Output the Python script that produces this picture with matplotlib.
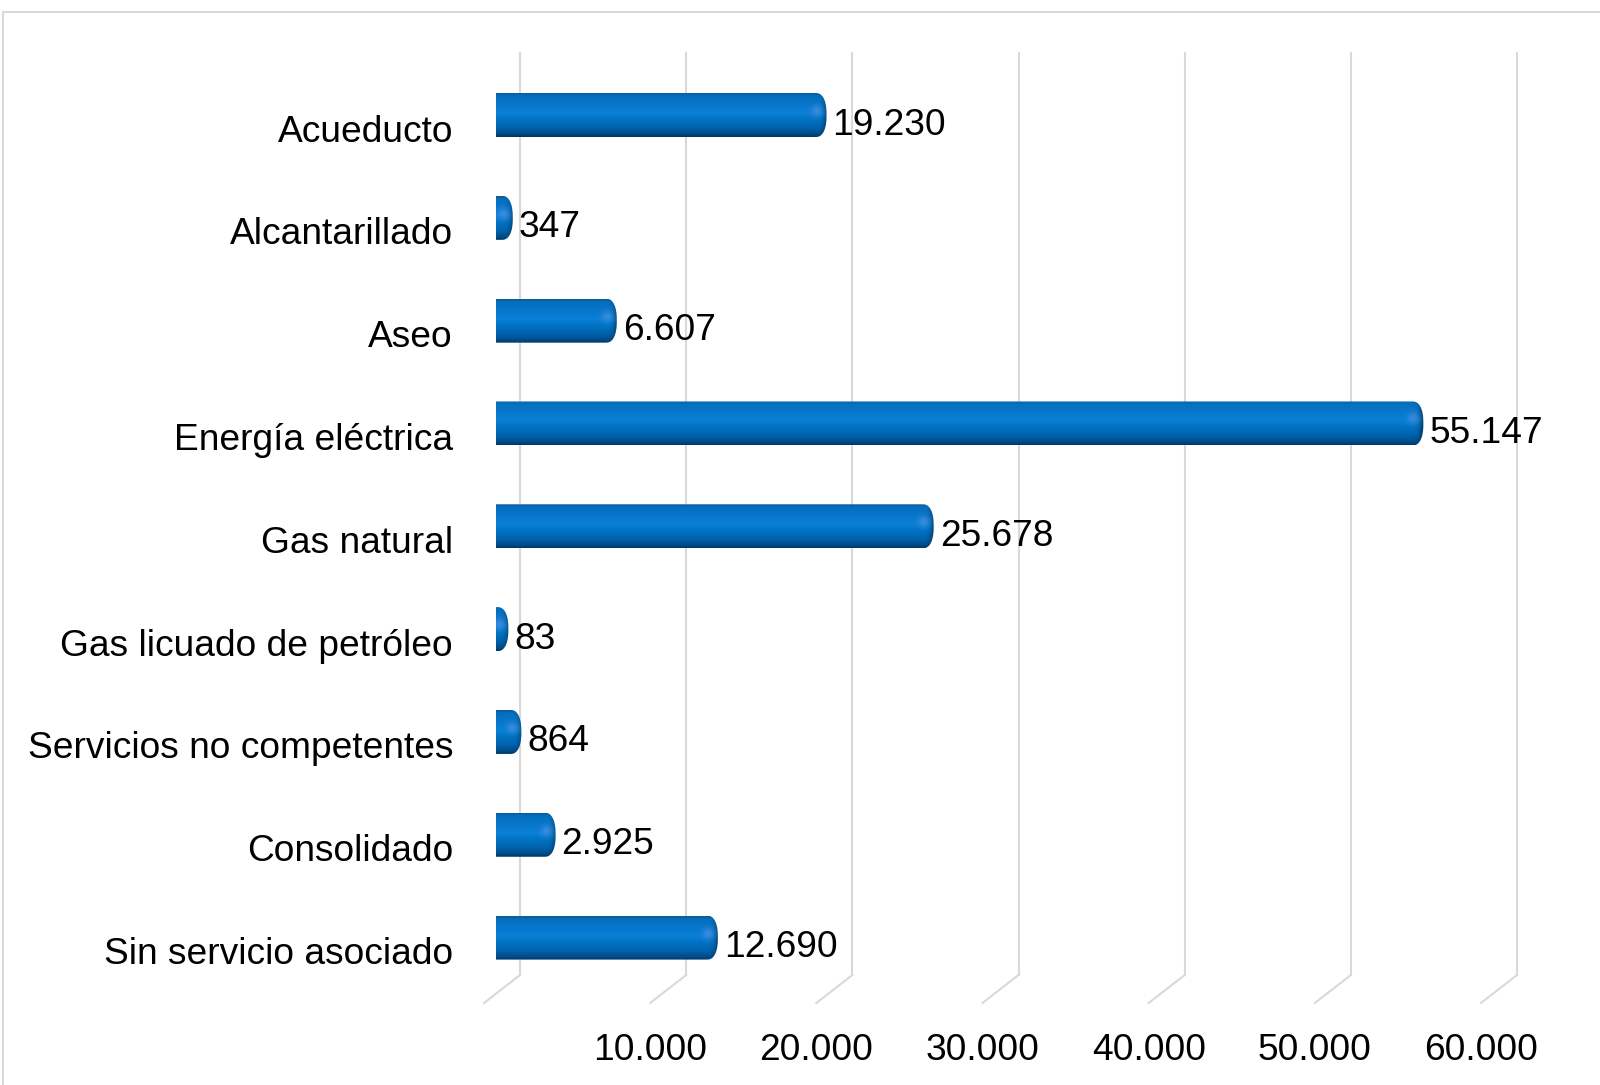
import numpy as np
import matplotlib
matplotlib.use("Agg")
import matplotlib.pyplot as plt
from matplotlib.path import Path
from matplotlib.patches import PathPatch, Rectangle
from matplotlib.transforms import offset_copy

categorias = ["Acueducto", "Alcantarillado", "Aseo", "Energía eléctrica", "Gas natural",
              "Gas licuado de petróleo", "Servicios no competentes", "Consolidado",
              "Sin servicio asociado"]
valores = [19230, 347, 6607, 55147, 25678, 83, 864, 2925, 12690]
etiquetas = ["19.230", "347", "6.607", "55.147", "25.678", "83", "864", "2.925", "12.690"]
ticks = [10000, 20000, 30000, 40000, 50000, 60000]
tick_labels = ["10.000", "20.000", "30.000", "40.000", "50.000", "60.000"]

plt.rcParams["font.family"] = ["Liberation Sans", "DejaVu Sans"]
fs = 26.75

W, H, DPI = 1600, 1085, 100
fig = plt.figure(figsize=(W / DPI, H / DPI), dpi=DPI)

# plano de las barras, en pixeles
x0_px, x1_px = 496, 1493
top_px, bot_px = 63.6, 989
ax = fig.add_axes([x0_px / W, 1 - bot_px / H, (x1_px - x0_px) / W, (bot_px - top_px) / H])
ax.axis("off")
n = len(categorias)
sx = (x1_px - x0_px) / 60000   # px por unidad
sy = (bot_px - top_px) / n     # px por fila

# profundidad 3D (px)
back_dx, front_dx, front_dy = 24, -36, 28
grid_top = (53 - top_px) / sy - 0.5
grid_bot = (975 - top_px) / sy - 0.5
gris = "#d9d9d9"

back = offset_copy(ax.transData, fig=fig, x=back_dx, y=0, units="dots")
for v in [0] + ticks:
    ax.plot([v, v], [grid_top, grid_bot], color=gris, lw=1.5, transform=back, clip_on=False, zorder=1)
    ax.plot([v, v + front_dx / sx], [grid_bot, grid_bot + front_dy / sy], color=gris, lw=1.5,
            transform=back, clip_on=False, zorder=1)

front_lab = offset_copy(ax.transData, fig=fig, x=back_dx + front_dx, y=-(1046 - 975), units="dots")
for v, lab in zip(ticks, tick_labels):
    ax.text(v, grid_bot, lab, transform=front_lab, ha="center", va="center_baseline",
            fontsize=fs, clip_on=False)

cat_tr = offset_copy(ax.transData, fig=fig, x=453 - x0_px, y=-13, units="dots")
for i, c in enumerate(categorias):
    ax.text(0, i, c, transform=cat_tr, ha="right", va="center_baseline", fontsize=fs)

# barras cilindricas
stops_t = [0.0, 0.06, 0.3, 0.45, 0.6, 0.8, 0.93, 1.0]
stops_c = np.array([
    [0.05, 0.35, 0.60],
    [0.02, 0.43, 0.74],
    [0.03, 0.47, 0.81],
    [0.04, 0.50, 0.84],
    [0.00, 0.45, 0.77],
    [0.00, 0.38, 0.67],
    [0.00, 0.30, 0.54],
    [0.00, 0.22, 0.40],
])
ry = 22 / sy
rx = 11 / sx
rl = 5 / sx
th = np.linspace(-np.pi / 2, np.pi / 2, 60)
pe = 2.4
cx = np.sign(np.cos(th)) * np.abs(np.cos(th)) ** (2 / pe)
cy = np.sign(np.sin(th)) * np.abs(np.sin(th)) ** (2 / pe)

lab_tr = offset_copy(ax.transData, fig=fig, x=17, y=-6, units="dots")
for i, (v, lab) in enumerate(zip(valores, etiquetas)):
    xe = v
    cap = np.column_stack([xe + rx * cx, i + ry * cy])
    left = np.column_stack([-rl * np.cos(th[::-1]), i + ry * np.sin(th[::-1])])
    verts = np.vstack([cap, left, cap[:1]])
    codes = [Path.MOVETO] + [Path.LINETO] * (len(verts) - 2) + [Path.CLOSEPOLY]
    patch = PathPatch(Path(verts, codes), facecolor="none", edgecolor="none")
    ax.add_patch(patch)

    ny, nx = 80, 300
    xs = np.linspace(-rl, xe + rx, nx)
    ts = np.linspace(0, 1, ny)
    img = np.zeros((ny, nx, 3))
    for k in range(3):
        img[:, :, k] = np.interp(ts, stops_t, stops_c[:, k])[:, None]
    u = np.clip((xs - xe) / rx, 0, 1)
    dark = 1 - 0.4 * u ** 3
    img = img * dark[None, :, None]
    # brillo en la tapa
    gx = (xs - (xe + 0.15 * rx)) * sx
    gy = (ts - 0.4) * 44
    spot = np.exp(-(gx[None, :] ** 2 + gy[:, None] ** 2) / (2 * 4.0 ** 2))
    img = img + (np.array([0.35, 0.58, 0.88]) - img) * (0.6 * spot[:, :, None])
    im = ax.imshow(np.clip(img, 0, 1), extent=[-rl, xe + rx, i + ry, i - ry], aspect="auto",
                   interpolation="bilinear", zorder=3)
    im.set_clip_path(patch)

    ax.text(v, i, lab, transform=lab_tr, ha="left", va="center_baseline", fontsize=fs, zorder=4)

ax.set_xlim(0, 60000)
ax.set_ylim(n - 0.5, -0.5)

fig.add_artist(Rectangle((3 / W, -0.1), 1.2, 1 - 12 / H + 0.1, transform=fig.transFigure,
                         fill=False, edgecolor=gris, lw=1.5))

fig.savefig("out.png", dpi=DPI)
